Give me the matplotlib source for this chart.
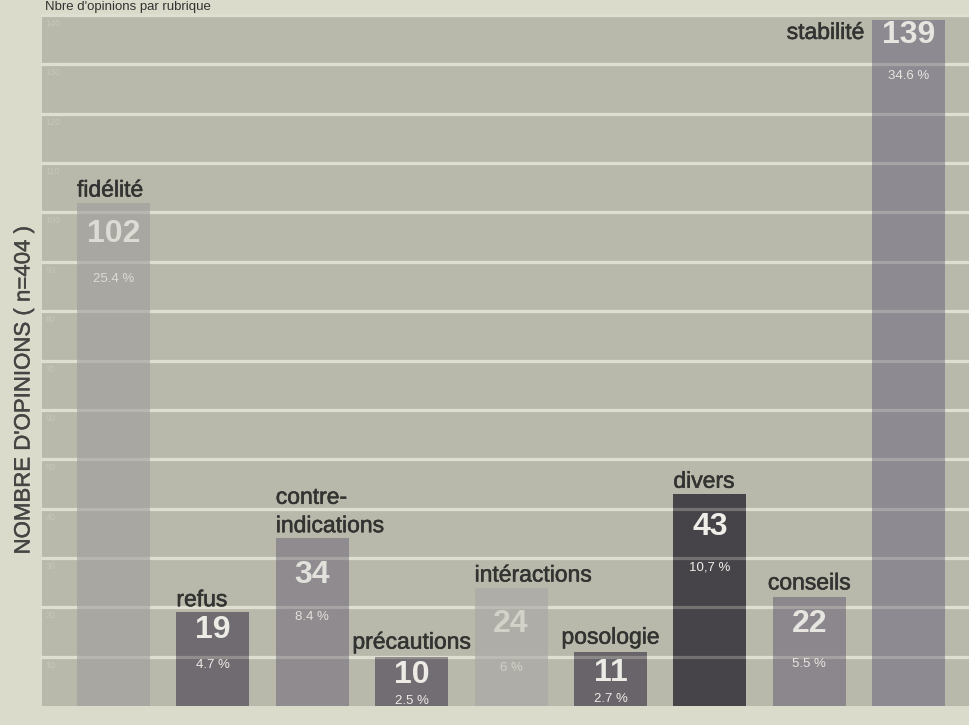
import matplotlib
matplotlib.use('Agg')
import matplotlib.pyplot as plt
import matplotlib.patheffects as pe

plt.rcParams['font.family'] = ['Liberation Sans', 'DejaVu Sans']

# opinions par rubrique (n=404)
rubriques = ['fidélité', 'refus', 'contre-\nindications', 'précautions', 'intéractions',
             'posologie', 'divers', 'conseils', 'stabilité']
opinions = [102, 19, 34, 10, 24, 11, 43, 22, 139]
pourcents = ['25.4 %', '4.7 %', '8.4 %', '2.5 %', '6 %', '2.7 %', '10,7 %', '5.5 %', '34.6 %']
graduations = list(range(10, 150, 10))

bar_colors = ['#a8a7a2', '#6f6b70', '#8f8b8f', '#716d72', '#aeada8',
              '#68646a', '#464448', '#8b878c', '#8e8a91']
num_colors = ['#dcdcd5', '#ecebe5', '#e2e1dc', '#ecebe5', '#d2d2c8',
              '#ecebe5', '#efeee8', '#e6e5df', '#e6e5df']
label_ha = ['left', 'left', 'left', 'center', 'left', 'center', 'left', 'center', 'stab']
# vertical offsets (px below bar top) of the count and of the percentage
num_drop = [31, 18, 37, 18, 36, 21, 33, 27, 15]
pct_drop = [45, 35, 42, 26, 44, 26, 41, 40, 41]

PX = 0.72  # points per pixel at dpi 100
BG = '#b8b9aa'
PAPER = '#dadbcb'
GRID = '#dedfd0'
INK = '#333332'
heavy = [pe.withStroke(linewidth=0.4, foreground=INK)]

fig = plt.figure(figsize=(9.69, 7.25), dpi=100)
fig.patch.set_facecolor(PAPER)
ax = fig.add_axes([42 / 969, 19 / 725, 927 / 969, 691 / 725])
ax.set_facecolor(BG)
ax.set_xlim(-0.719, 8.607)
ax.set_ylim(0, 140)
for s in ax.spines.values():
    s.set_visible(False)
ax.set_xticks([])
ax.set_yticks([])

x = list(range(len(opinions)))
w = 0.734
ax.bar(x, opinions, width=w, color=bar_colors, zorder=2)

# white rules behind the bars, and faintly over them
for v in graduations:
    ax.axhline(v, color=GRID, lw=2.3, zorder=1, clip_on=False)
    ax.axhline(v, color=GRID, lw=2.3, alpha=0.3, zorder=3, clip_on=False)
    ax.annotate(str(v), (0.004, v), xycoords=('axes fraction', 'data'),
                xytext=(0, -4 * PX), textcoords='offset points',
                ha='left', va='top', fontsize=6.5, color='#c6c7b9', zorder=4)

for i, (name, n, pct) in enumerate(zip(rubriques, opinions, pourcents)):
    left = i - w / 2
    if label_ha[i] == 'stab':
        ax.annotate(name, (left, n), xytext=(-8 * PX, -19 * PX), textcoords='offset points',
                    ha='right', va='baseline', fontsize=16.5, color=INK,
                    path_effects=heavy, zorder=5)
    elif label_ha[i] == 'left':
        ax.annotate(name, (left, n), xytext=(0, 6 * PX), textcoords='offset points',
                    ha='left', va='baseline', fontsize=16.5, color=INK,
                    linespacing=1.3, path_effects=heavy, zorder=5)
    else:
        ax.annotate(name, (i, n), xytext=(0, 8 * PX), textcoords='offset points',
                    ha='center', va='baseline', fontsize=16.5, color=INK,
                    path_effects=heavy, zorder=5)
    ax.annotate(str(n), (i, n), xytext=(0, -num_drop[i] * PX), textcoords='offset points',
                ha='center', va='center', fontsize=23, fontweight='bold',
                color=num_colors[i], zorder=5)
    ax.annotate(pct, (i, n), xytext=(0, -(num_drop[i] + pct_drop[i]) * PX),
                textcoords='offset points', ha='center', va='center',
                fontsize=9.5, color=num_colors[i], zorder=5)

fig.text(24 / 969, 1 - 390 / 725, "NOMBRE D'OPINIONS ( n=404 )", rotation=90,
         ha='center', va='center', fontsize=16, color='#454543',
         path_effects=[pe.withStroke(linewidth=0.3, foreground='#454543')])
fig.text(45 / 969, 1 - 1 / 725, "Nbre d'opinions par rubrique", ha='left',
         va='top', fontsize=9.5, color=INK)

fig.savefig('out.png', dpi=100, facecolor=fig.get_facecolor())
